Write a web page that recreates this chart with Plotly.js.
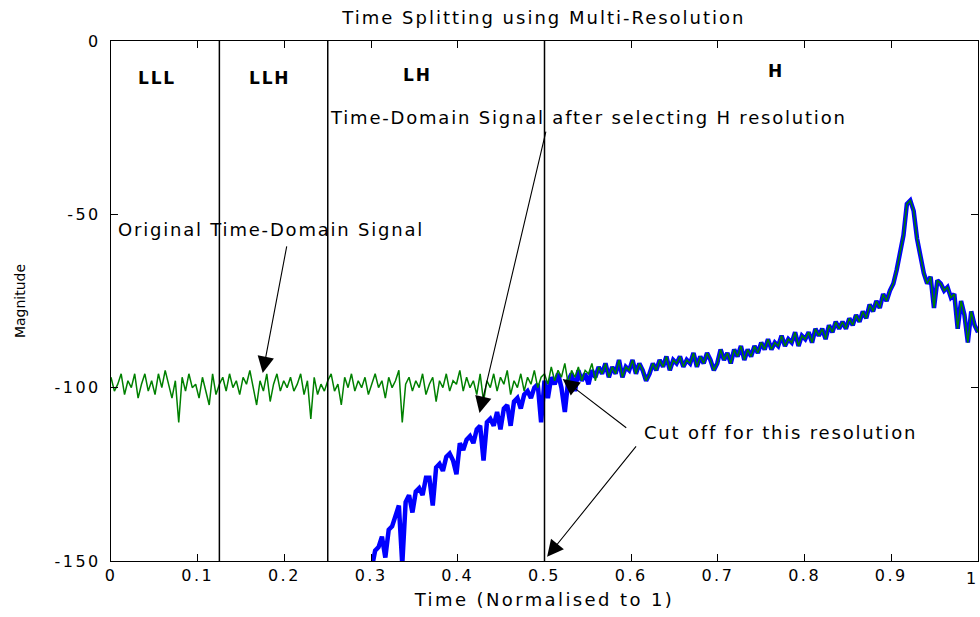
<!DOCTYPE html>
<html>
<head>
<meta charset="utf-8">
<script src="https://cdn.plot.ly/plotly-3.0.1.min.js"></script>
<style>
  html, body { margin: 0; padding: 0; background: #fff; }
  #chart { width: 980px; height: 617px; }
  .gtitle { letter-spacing: 2px; }
  .xtitle { letter-spacing: 2.4px; }
  .xtick text, .ytick text { letter-spacing: 2.5px; }
  .annotation-text { letter-spacing: 1.8px; }
</style>
</head>
<body>
<div id="chart"></div>
<script>
// ---- Data ----
// Original time-domain signal (magnitude), uniformly sampled over normalised time 0..1
const originalSignal = [
  -97,-101,-99,-96,-102,-98,-100,-96,-103,-99,-96,-101,-98,-102,-96,-100,-95,-99,-103,-98,-110,-97,-101,-96,-100,-99,-103,-97,-101,-105,-96,-102,
  -99,-97,-101,-96,-100,-98,-102,-97,-99,-95,-100,-105,-98,-101,-96,-104,-99,-96,-101,-98,-100,-97,-101,-99,-96,-102,-98,-109,-97,-102,-99,-101,
  -98,-96,-101,-99,-105,-97,-100,-96,-101,-98,-100,-97,-102,-99,-96,-100,-98,-103,-97,-100,-98,-95,-110,-99,-97,-101,-98,-100,-96,-102,-99,-97,
  -104,-98,-100,-96,-101,-98,-99,-95,-101,-97,-100,-98,-102,-96,-104,-98,-100,-96,-101,-97,-99,-95,-102,-98,-100,-96,-101,-97,-99,-95,-100,-97,
  -96,-99,-94,-98,-95,-97,-93,-99,-95,-97,-94,-98,-95,-96,-93,-98,-94,-96,-93,-97,-94,-96,-92,-97,-94,-95,-92,-96,-93,-95,-98,-96,
  -93,-95,-92,-94,-91,-95,-92,-93,-91,-94,-92,-93,-90,-94,-91,-93,-90,-92,-95,-93,-89,-92,-90,-93,-89,-91,-88,-92,-89,-91,-88,-90,
  -87,-89,-86,-89,-87,-88,-85,-88,-86,-87,-84,-88,-85,-86,-84,-87,-83,-85,-83,-86,-82,-84,-81,-83,-81,-83,-80,-82,-79,-81,-78,-80,
  -76,-78,-75,-77,-73,-75,-72,-70,-66,-61,-56,-47,-46,-49,-57,-62,-67,-70,-68,-77,-69,-70,-72,-71,-74,-73,-83,-75,-79,-87,-78,-82,-84
];
// Signal after selecting H resolution: rising part (from sample blueStart), then identical to the original
const blueStart = 77;
const blueJoin = 148;
const hRise = [
  -152,-147,-146,-143,-149,-141,-140,-137,-134,-151,
  -133,-131,-136,-130,-129,-131,-126,-126,-134,-123,
  -122,-124,-120,-119,-121,-125,-116,-118,-115,-114,
  -116,-112,-111,-121,-110,-109,-111,-107,-112,-106,
  -105,-111,-104,-103,-106,-102,-101,-103,-100,-99,
  -110,-98,-103,-97,-99,-96,-100,-107,-98,-96,
  -101,-95,-98,-96,-99,-95,-97,-94,-96,-93,-97
];
const bandEdges = [0.125, 0.25, 0.5];
const bandLabels = ['LLL', 'LLH', 'LH', 'H'];
const bandLabelX = [0.053, 0.183, 0.354, 0.767];
const bandLabelY = [-10.7, -10.7, -9.8, -8.7];
const xTicks = [0, 0.1, 0.2, 0.3, 0.4, 0.5, 0.6, 0.7, 0.8, 0.9, 1];
const xTickText = ['0', '0.1', '0.2', '0.3', '0.4', '0.5', '0.6', '0.7', '0.8', '0.9', '1'];
const yTicks = [0, -50, -100, -150];
const yTickText = ['0', '-50', '-100', '-150'];

// ---- Build traces ----
const N = originalSignal.length;
const t = originalSignal.map((_, i) => i / (N - 1));
const hValues = hRise.concat(originalSignal.slice(blueJoin));
const hTime = t.slice(blueStart);

const FONT = 'DejaVu Sans, Verdana, sans-serif';

const traces = [
  {
    x: hTime, y: hValues, type: 'scatter', mode: 'lines',
    line: { color: '#0000ff', width: 4.5, shape: 'linear' },
    hoverinfo: 'skip', showlegend: false
  },
  {
    x: t, y: originalSignal, type: 'scatter', mode: 'lines',
    line: { color: '#008000', width: 1.5, shape: 'linear' },
    hoverinfo: 'skip', showlegend: false
  }
];

const shapes = bandEdges.map(xe => ({
  type: 'line', xref: 'x', yref: 'y', x0: xe, x1: xe, y0: 0, y1: -150,
  line: { color: '#000', width: 1.5 }
}));

const annFont = { family: FONT, size: 18, color: '#000' };
const annotations = [];
bandLabels.forEach((lab, i) => {
  annotations.push({
    x: bandLabelX[i], y: bandLabelY[i], xref: 'x', yref: 'y', text: lab,
    showarrow: false, font: { family: FONT, size: 17, color: '#000', weight: 'bold' }
  });
});
annotations.push(
  { x: 0.184, y: -54.5, xref: 'x', yref: 'y', text: 'Original Time-Domain Signal', showarrow: false, font: annFont },
  { x: 0.551, y: -22.2, xref: 'x', yref: 'y', text: 'Time-Domain Signal after selecting H resolution', showarrow: false, font: annFont },
  { x: 0.772, y: -112.8, xref: 'x', yref: 'y', text: 'Cut off for this resolution', showarrow: false, font: annFont },
  // last x tick label, kept inside the figure edge
  { x: 1, y: -150, xref: 'x', yref: 'y', yshift: -17, xshift: 2, text: xTickText[xTickText.length - 1], showarrow: false,
    xanchor: 'right', yanchor: 'middle', font: { family: FONT, size: 16, color: '#000' } }
);
const arrows = [
  { tail: [0.203, -58.8], tip: [0.175, -95.8] },
  { tail: [0.502, -25.7], tip: [0.425, -107.3] },
  { tail: [0.596, -111.9], tip: [0.521, -97.5] },
  { tail: [0.607, -116.5], tip: [0.503, -148.8] }
];
arrows.forEach(a => {
  annotations.push({
    x: a.tip[0], y: a.tip[1], ax: a.tail[0], ay: a.tail[1],
    xref: 'x', yref: 'y', axref: 'x', ayref: 'y', text: '',
    showarrow: true, arrowhead: 2, arrowsize: 3, arrowwidth: 1.1, arrowcolor: '#000', standoff: 0
  });
});

const layout = {
  width: 980, height: 617,
  paper_bgcolor: '#fff', plot_bgcolor: '#fff',
  margin: { l: 111, r: 2, t: 41, b: 56 },
  showlegend: false,
  title: {
    text: 'Time Splitting using Multi-Resolution',
    font: { family: FONT, size: 18, color: '#000' },
    x: 0.555, xanchor: 'center', y: 0.971, yanchor: 'middle'
  },
  xaxis: {
    range: [0, 1], tickvals: xTicks, ticktext: xTickText,
    ticks: 'inside', ticklen: 7, tickwidth: 1, tickcolor: '#000',
    showline: true, linecolor: '#000', linewidth: 1, mirror: 'ticks',
    showgrid: false, zeroline: false,
    tickfont: { family: FONT, size: 16, color: '#000' },
    title: { text: 'Time (Normalised to 1)', font: { family: FONT, size: 18, color: '#000' }, standoff: 9 }
  },
  yaxis: {
    range: [-150, 0], tickvals: yTicks, ticktext: yTickText,
    ticks: 'inside', ticklen: 7, tickwidth: 1, tickcolor: '#000',
    showline: true, linecolor: '#000', linewidth: 1, mirror: 'ticks',
    showgrid: false, zeroline: false,
    tickfont: { family: FONT, size: 16, color: '#000' },
    ticklabelstandoff: 6,
    title: { text: 'Magnitude', font: { family: FONT, size: 14, color: '#000' }, standoff: 25 }
  },
  shapes: shapes,
  annotations: annotations
};

Plotly.newPlot('chart', traces, layout, { staticPlot: true, displayModeBar: false });
</script>
</body>
</html>
